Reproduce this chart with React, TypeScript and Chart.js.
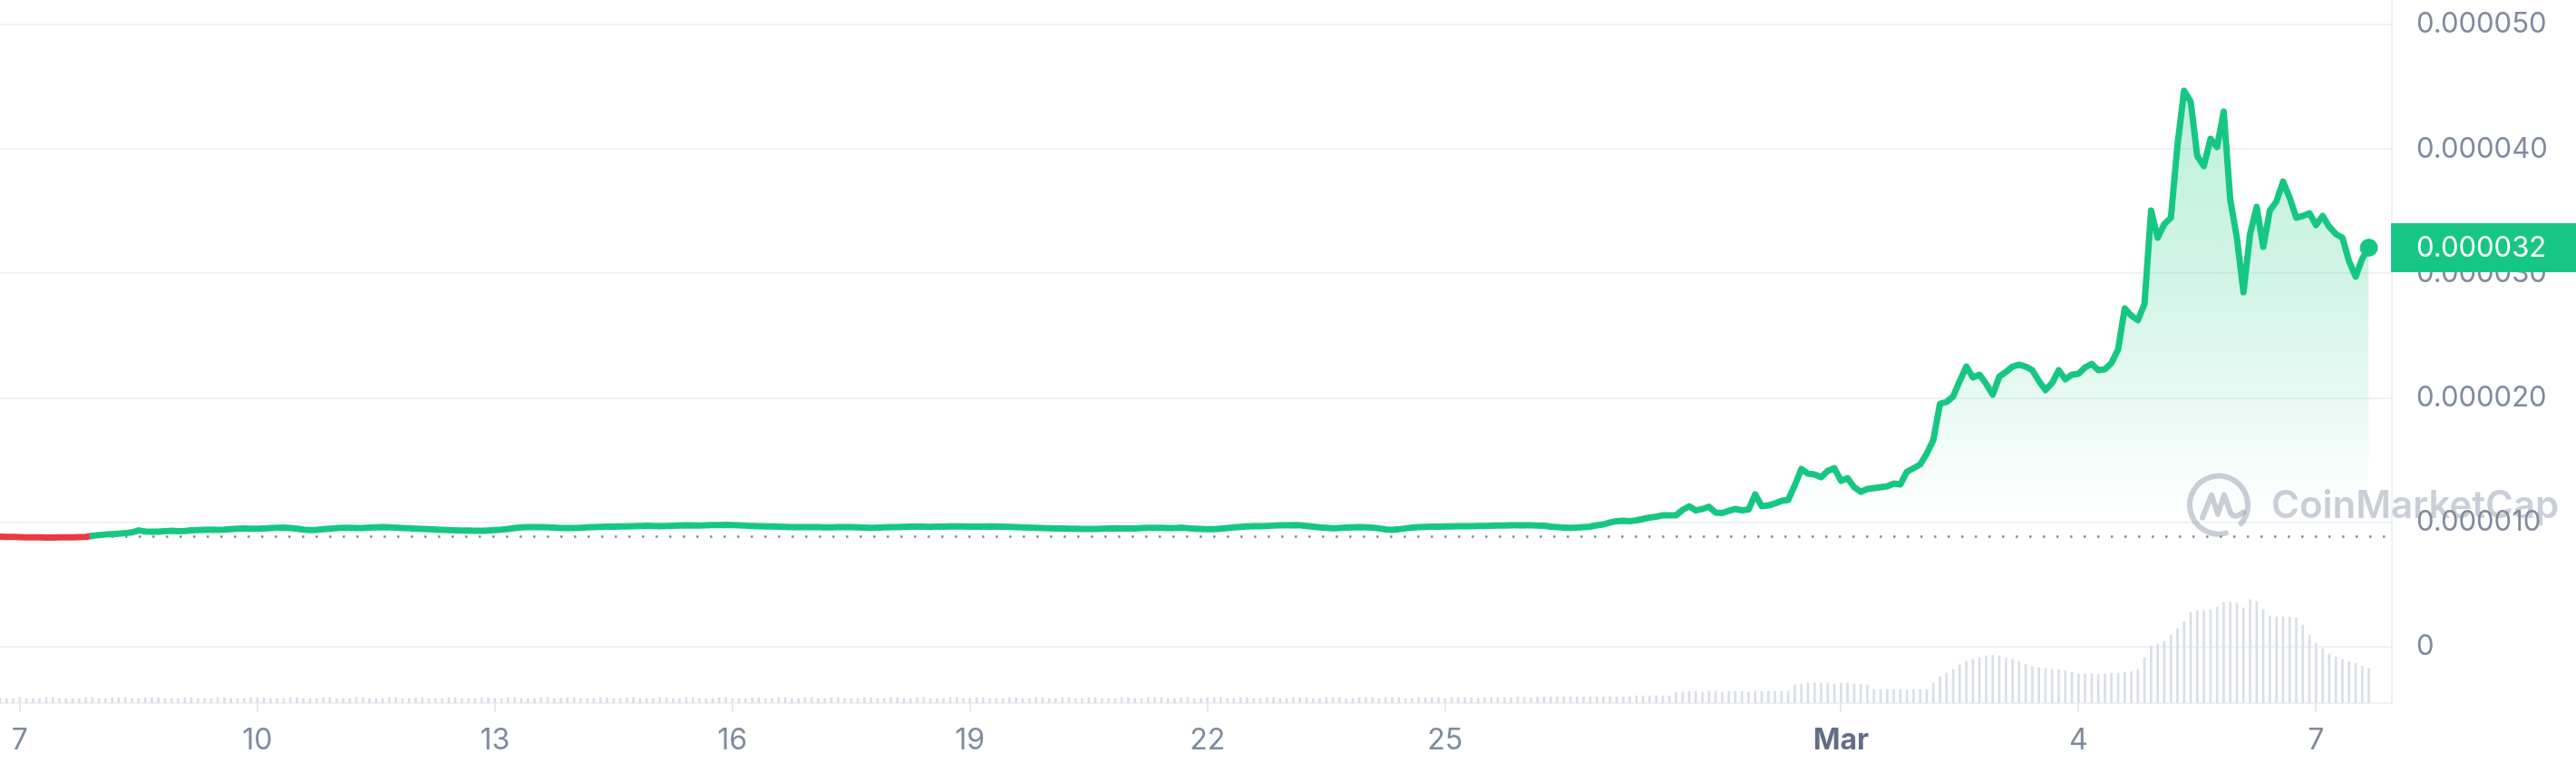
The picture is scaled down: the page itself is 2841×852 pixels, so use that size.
import React, { useEffect, useRef } from 'react';
import { Chart, registerables } from 'chart.js';

Chart.register(...registerables);

// Hours between consecutive samples (first sample: Feb 6, 18:00)
const stepHours = 2;

// Price in millionths of a dollar (x 1e-6), one value per 2 hours
const priceMicro: number[] = [
  8.85, 8.84, 8.83, 8.82, 8.81, 8.80, 8.80, 8.79, 8.79, 8.80, 8.80, 8.81,
  8.82, 8.84, 8.92, 8.98, 9.03, 9.06, 9.10, 9.14, 9.20, 9.36, 9.28, 9.26,
  9.25, 9.30, 9.33, 9.30, 9.32, 9.36, 9.38, 9.40, 9.42, 9.40, 9.42, 9.46,
  9.50, 9.52, 9.50, 9.49, 9.51, 9.54, 9.57, 9.58, 9.55, 9.50, 9.42, 9.38,
  9.40, 9.45, 9.50, 9.54, 9.56, 9.57, 9.55, 9.55, 9.58, 9.60, 9.62, 9.60,
  9.58, 9.55, 9.53, 9.50, 9.48, 9.45, 9.42, 9.40, 9.38, 9.36, 9.35, 9.34,
  9.33, 9.33, 9.35, 9.38, 9.42, 9.48, 9.55, 9.60, 9.62, 9.63, 9.62, 9.60,
  9.58, 9.55, 9.54, 9.55, 9.57, 9.60, 9.62, 9.64, 9.65, 9.66, 9.67, 9.68,
  9.70, 9.72, 9.73, 9.72, 9.70, 9.71, 9.73, 9.75, 9.76, 9.75, 9.74, 9.76,
  9.78, 9.79, 9.80, 9.78, 9.76, 9.74, 9.72, 9.70, 9.68, 9.67, 9.66, 9.64,
  9.63, 9.62, 9.62, 9.63, 9.62, 9.60, 9.61, 9.62, 9.63, 9.62, 9.60, 9.58,
  9.57, 9.58, 9.60, 9.62, 9.63, 9.64, 9.65, 9.66, 9.65, 9.64, 9.65, 9.66,
  9.67, 9.68, 9.67, 9.66, 9.65, 9.66, 9.67, 9.66, 9.65, 9.64, 9.62, 9.60,
  9.58, 9.57, 9.55, 9.53, 9.52, 9.51, 9.50, 9.49, 9.48, 9.47, 9.48, 9.50,
  9.52, 9.53, 9.52, 9.51, 9.52, 9.54, 9.56, 9.57, 9.56, 9.55, 9.54, 9.58,
  9.54, 9.50, 9.47, 9.45, 9.46, 9.50, 9.55, 9.60, 9.64, 9.67, 9.69, 9.70,
  9.72, 9.74, 9.76, 9.77, 9.78, 9.76, 9.72, 9.66, 9.60, 9.56, 9.53, 9.55,
  9.58, 9.60, 9.62, 9.61, 9.58, 9.52, 9.44, 9.40, 9.45, 9.52, 9.58, 9.62,
  9.64, 9.66, 9.66, 9.67, 9.68, 9.69, 9.69, 9.70, 9.71, 9.72, 9.73, 9.74,
  9.75, 9.76, 9.77, 9.77, 9.76, 9.74, 9.73, 9.66, 9.62, 9.59, 9.57, 9.59,
  9.62, 9.66, 9.77, 9.84, 9.99, 10.10, 10.13, 10.10, 10.17, 10.28, 10.39, 10.46,
  10.57, 10.57, 10.57, 11.01, 11.30, 10.96, 11.08, 11.26, 10.79, 10.75, 10.93, 11.08,
  10.97, 11.04, 12.25, 11.30, 11.37, 11.52, 11.74, 11.81, 12.97, 14.29, 13.92, 13.85,
  13.63, 14.14, 14.36, 13.34, 13.56, 12.83, 12.46, 12.68, 12.76, 12.83, 12.90, 13.12,
  13.05, 14.07, 14.36, 14.65, 15.53, 16.62, 19.53, 19.68, 20.12, 21.36, 22.52, 21.65,
  21.87, 21.14, 20.26, 21.72, 22.09, 22.52, 22.67, 22.52, 22.23, 21.36, 20.63, 21.21,
  22.23, 21.50, 21.87, 21.94, 22.45, 22.74, 22.23, 22.30, 22.81, 23.91, 27.19, 26.61,
  26.24, 27.55, 35.06, 32.87, 33.97, 34.48, 40.31, 44.68, 43.81, 39.43, 38.63, 40.82,
  40.16, 43.00, 35.93, 32.87, 28.50, 33.17, 35.35, 32.14, 35.06, 35.79, 37.39, 36.08,
  34.48, 34.62, 34.84, 33.89, 34.62, 33.75, 33.17, 32.87, 30.98, 29.74, 31.20, 32.07,
];

// Trading volume (millions, relative), one bar per 2 hours
const volumes: number[] = [
  6, 5, 5, 6, 5, 5, 5, 6, 6, 5, 5, 5,
  5, 6, 6, 5, 5, 6, 6, 6, 5, 5, 6, 6,
  6, 5, 5, 5, 6, 6, 5, 5, 5, 6, 6, 5,
  5, 5, 6, 6, 6, 5, 5, 5, 6, 6, 5, 5,
  5, 6, 6, 5, 5, 5, 6, 6, 5, 5, 5, 6,
  6, 5, 5, 6, 6, 5, 5, 5, 6, 6, 5, 5,
  5, 6, 6, 5, 5, 6, 6, 5, 5, 5, 6, 6,
  5, 5, 6, 6, 5, 5, 5, 6, 6, 5, 5, 6,
  6, 5, 5, 5, 6, 6, 5, 5, 6, 6, 5, 5,
  5, 6, 6, 5, 5, 5, 6, 6, 5, 5, 6, 6,
  5, 5, 6, 6, 5, 5, 6, 6, 5, 5, 5, 6,
  6, 5, 5, 6, 6, 5, 5, 6, 6, 5, 5, 5,
  6, 6, 5, 5, 6, 6, 5, 5, 5, 6, 6, 5,
  5, 6, 6, 5, 5, 6, 6, 5, 5, 6, 6, 5,
  5, 5, 6, 6, 5, 5, 6, 6, 6, 5, 5, 6,
  6, 5, 5, 6, 6, 6, 5, 5, 6, 6, 5, 5,
  6, 6, 5, 5, 6, 6, 6, 5, 5, 6, 6, 6,
  5, 5, 6, 6, 6, 5, 6, 6, 6, 5, 5, 6,
  6, 6, 6, 5, 6, 6, 6, 6, 5, 6, 6, 6,
  6, 6, 7, 6, 6, 7, 7, 7, 7, 7, 7, 7,
  7, 7, 7, 7, 7, 7, 7, 7, 8, 8, 8, 8,
  8, 8, 12, 12, 13, 13, 12, 13, 13, 12, 13, 13,
  13, 12, 13, 13, 13, 13, 13, 13, 20, 21, 22, 22,
  22, 22, 21, 22, 22, 21, 21, 20, 15, 15, 15, 15,
  15, 15, 15, 15, 15, 22, 29, 33, 37, 42, 46, 48,
  50, 52, 53, 52, 50, 48, 46, 43, 40, 39, 38, 37,
  37, 36, 34, 32, 32, 32, 32, 32, 33, 33, 34, 35,
  37, 50, 63, 65, 68, 75, 82, 90, 100, 102, 102, 103,
  106, 111, 111, 110, 105, 114, 112, 103, 96, 95, 95, 95,
  94, 86, 75, 66, 60, 54, 51, 48, 46, 44, 41, 38,
];

// Day ticks (hours since first sample) and their labels
const tickHours: number[] = [6, 78, 150, 222, 294, 366, 438, 558, 630, 702];
const tickLabels: string[] = ['7', '10', '13', '16', '19', '22', '25', 'Mar', '4', '7'];
const priceTicks: number[] = [0, 0.00001, 0.00002, 0.00003, 0.00004, 0.00005];

const GREEN = '#16c784';
const RED = '#ea3943';
const GRID = '#eff2f5';
const LABEL = '#808a9d';

export default function App() {
  const canvasRef = useRef<HTMLCanvasElement | null>(null);

  useEffect(() => {
    document.body.style.margin = '0';
    const canvas = canvasRef.current;
    if (!canvas) return;

    const prices = priceMicro.map((v) => v / 1e6);
    const pricePoints = prices.map((p, i) => ({ x: i * stepHours, y: p }));
    const volumePoints = volumes.map((v, i) => ({ x: i * stepHours, y: v }));
    const openPrice = prices[0];
    const lastIndex = prices.length - 1;

    const overlay = {
      id: 'overlay',
      beforeDatasetsDraw(chart: any) {
        const { ctx, chartArea, scales } = chart;
        const py = scales.y.getPixelForValue(openPrice);
        ctx.save();
        ctx.strokeStyle = 'rgba(110,118,136,0.85)';
        ctx.lineWidth = 2.5;
        ctx.setLineDash([2.5, 12.5]);
        ctx.beginPath();
        ctx.moveTo(chartArea.left + 3, py);
        ctx.lineTo(chartArea.right - 6, py);
        ctx.stroke();
        ctx.restore();
      },
      afterDraw(chart: any) {
        const { ctx, chartArea, scales } = chart;
        const last = prices[lastIndex];
        const py = scales.y.getPixelForValue(last);
        ctx.save();
        // watermark
        const wy = scales.y.getPixelForValue(0.0000114);
        const cx = chartArea.right - 191;
        ctx.strokeStyle = 'rgba(128,138,157,0.42)';
        ctx.fillStyle = 'rgba(128,138,157,0.42)';
        ctx.lineWidth = 6;
        ctx.lineCap = 'round';
        ctx.lineJoin = 'round';
        ctx.beginPath();
        ctx.arc(cx, wy, 32, 0.42 * Math.PI, 2.22 * Math.PI);
        ctx.stroke();
        ctx.beginPath();
        ctx.moveTo(cx - 18, wy + 14);
        ctx.lineTo(cx - 8, wy - 11);
        ctx.lineTo(cx - 1, wy + 10);
        ctx.lineTo(cx + 6, wy - 11);
        ctx.lineTo(cx + 13, wy + 9);
        ctx.quadraticCurveTo(cx + 18, wy + 16, cx + 27, wy + 8);
        ctx.stroke();
        ctx.font = '600 42px Inter';
        ctx.textAlign = 'left';
        ctx.textBaseline = 'middle';
        ctx.fillText('CoinMarketCap', chartArea.right - 133, wy + 2);
        // current price badge
        ctx.fillStyle = GREEN;
        ctx.fillRect(chartArea.right - 1, py - 27, chart.width - chartArea.right + 1, 54);
        ctx.fillStyle = '#ffffff';
        ctx.font = '31px Inter';
        ctx.textBaseline = 'middle';
        ctx.fillText(last.toFixed(6), chartArea.right + 27, py + 1);
        ctx.restore();
      },
    };

    const chart = new Chart(canvas, {
      data: {
        datasets: [
          {
            type: 'line',
            data: pricePoints,
            yAxisID: 'y',
            order: 1,
            borderWidth: 7,
            borderColor: GREEN,
            borderJoinStyle: 'round',
            borderCapStyle: 'round',
            tension: 0,
            fill: 'start',
            backgroundColor: (ctx: any) => {
              const { chart: c } = ctx;
              if (!c.chartArea) return 'rgba(0,0,0,0)';
              const y = c.scales.y;
              const top = y.getPixelForValue(0.000046);
              const bottom = y.getPixelForValue(0.00001);
              const g = c.ctx.createLinearGradient(0, top, 0, bottom);
              g.addColorStop(0, 'rgba(22,199,132,0.28)');
              g.addColorStop(0.45, 'rgba(22,199,132,0.2)');
              g.addColorStop(0.72, 'rgba(22,199,132,0.1)');
              g.addColorStop(0.93, 'rgba(22,199,132,0.02)');
              g.addColorStop(1, 'rgba(22,199,132,0)');
              return g;
            },
            pointRadius: (ctx: any) => (ctx.dataIndex === lastIndex ? 10 : 0),
            pointBackgroundColor: GREEN,
            pointBorderWidth: 0,
            pointHoverRadius: 0,
            segment: {
              borderColor: (ctx: any) =>
                ctx.p0.parsed.y < openPrice || ctx.p1.parsed.y < openPrice ? RED : GREEN,
            },
          } as any,
          {
            type: 'bar',
            data: volumePoints,
            yAxisID: 'yv',
            order: 2,
            backgroundColor: '#dadee6',
            barThickness: 2,
          } as any,
        ],
      },
      options: {
        animation: false,
        responsive: true,
        maintainAspectRatio: false,
        layout: { padding: 0, autoPadding: false } as any,
        plugins: { legend: { display: false }, tooltip: { enabled: false } },
        events: [],
        scales: {
          x: {
            type: 'linear',
            position: 'bottom',
            offset: false,
            min: 0,
            max: 725,
            grid: { offset: false, drawOnChartArea: false, drawTicks: true, tickLength: 10, color: '#e6e8ed', lineWidth: 2 },
            border: { display: true, color: GRID, width: 2 },
            ticks: {
              autoSkip: false,
              maxRotation: 0,
              padding: 12,
              color: (ctx: any) => (ctx.index === 7 ? '#616e85' : LABEL),
              font: (ctx: any) => ({ family: 'Inter', size: 32, weight: ctx.index === 7 ? '700' : '400' }),
              callback: (_v: any, i: number) => tickLabels[i],
            },
            afterBuildTicks: (scale: any) => {
              scale.ticks = tickHours.map((value) => ({ value }));
            },
            afterFit: (scale: any) => {
              scale.height = 77;
              scale.paddingLeft = 0;
              scale.paddingRight = 0;
            },
          },
          y: {
            type: 'linear',
            position: 'right',
            min: -0.000004519,
            max: 0.00005197,
            grid: { color: GRID, lineWidth: 2, drawTicks: false },
            border: { display: true, color: GRID, width: 2 },
            ticks: {
              padding: 27,
              color: LABEL,
              font: { family: 'Inter', size: 31 },
              callback: (v: any) => (v === 0 ? '0' : Number(v).toFixed(6)),
            },
            afterBuildTicks: (scale: any) => {
              scale.ticks = priceTicks.map((value) => ({ value }));
            },
            afterFit: (scale: any) => {
              scale.width = 203;
              scale.paddingTop = 0;
              scale.paddingBottom = 0;
            },
          },
          yv: {
            type: 'linear',
            display: false,
            min: 0,
            max: 775,
          },
        },
      } as any,
      plugins: [overlay],
    });

    return () => chart.destroy();
  }, []);

  return (
    <div style={{ width: 2841, height: 852, position: 'relative' }}>
      <canvas ref={canvasRef} style={{ display: 'block' }} />
    </div>
  );
}
